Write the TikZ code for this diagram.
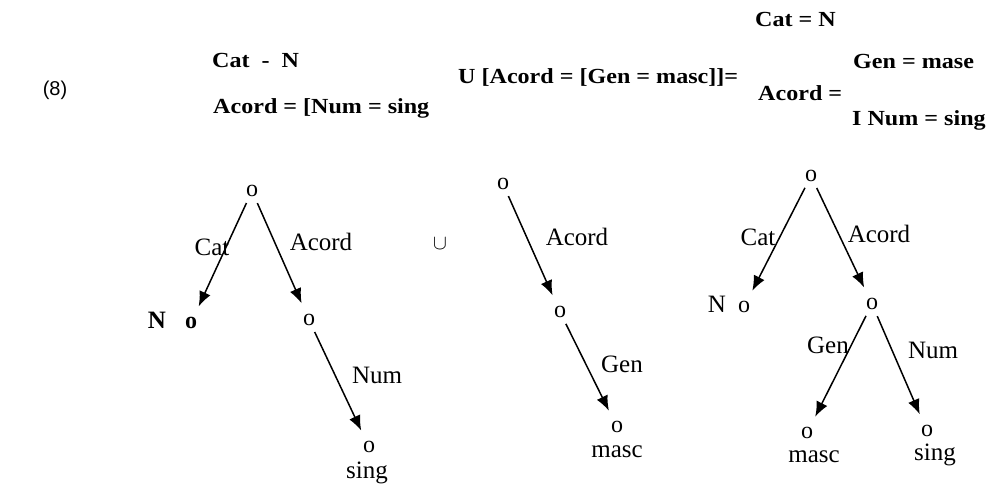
\documentclass[tikz,border=0pt]{standalone}
\usepackage{graphicx}
\usepackage{fontspec}
\setmainfont{Liberation Serif}
\newfontfamily\arialf{Liberation Sans}
\usetikzlibrary{arrows.meta}
\newcommand\tw[1]{\scalebox{1.12}[1]{#1}}
\begin{document}
\begin{tikzpicture}[x=1pt,y=-1pt,
  top/.style={font=\fontsize{21.5}{24}\selectfont\bfseries, inner sep=0pt, anchor=base west},
  lab/.style={font=\fontsize{25}{28}\selectfont, inner sep=0pt, anchor=base},
  pt/.style={font=\fontsize{24}{28}\selectfont, circle, inner sep=0pt, minimum size=20pt},
  arr/.style={-{Latex[length=15pt,width=12pt]}, line width=1.5pt, shorten >=8pt, shorten <=3pt}]
\useasboundingbox (0,0) rectangle (993,485);

% header
\node[font=\arialf\fontsize{20}{24}\selectfont, inner sep=0pt] (ex) at (55,90) {(8)};
\node[top] (f1a) at (212,67) {\tw{Cat\ \ -\ \ N}};
\node[top] (f1b) at (213,113) {\tw{Acord = [Num = sing}};
\node[top] (f2) at (458,83) {\tw{U [Acord = [Gen = masc]]=}};
\node[top] (f3a) at (755,26) {\tw{Cat = N}};
\node[top] (f3b) at (853,68) {\tw{Gen = mase}};
\node[top] (f3c) at (758,100) {\tw{Acord =}};
\node[top] (f3d) at (852,125) {\tw{I Num = sing}};

% tree 1
\node[pt] (r1) at (252,191) {o};
\node[pt] (c1) at (191,323) {\textbf{o}};
\node[lab] (N1) at (157,328) {\textbf{N}};
\node[pt] (a1) at (309,320) {o};
\node[pt] (s1) at (369,447) {o};
\node[lab] (sing1) at (367,478) {sing};
\node[lab] (Cat1) at (212,255) {Cat};
\node[lab] (Acord1) at (321,250) {Acord};
\node[lab] (Num1) at (377,383) {Num};
\draw[arr] (r1) -- (c1);
\draw[arr] (r1) -- (a1);
\draw[arr] (a1) -- (s1);

\node[inner sep=0pt, font=\fontsize{20}{24}\selectfont] (cup) at (440,244) {$\cup$};

% tree 2
\node[pt] (r2) at (503,184) {o};
\node[pt] (a2) at (560,312) {o};
\node[pt] (m2) at (617,427) {o};
\node[lab] (Acord2) at (577,245) {Acord};
\node[lab] (Gen2) at (622,372) {Gen};
\node[lab] (masc2) at (617,457) {masc};
\draw[arr] (r2) -- (a2);
\draw[arr] (a2) -- (m2);

% tree 3
\node[pt] (r3) at (811,176) {o};
\node[pt] (c3) at (744,307) {o};
\node[lab] (N3) at (717,312) {N};
\node[pt] (a3) at (872,304) {o};
\node[pt] (g3) at (807,433) {o};
\node[pt] (n3) at (927,431) {o};
\node[lab] (Cat3) at (758,245) {Cat};
\node[lab] (Acord3) at (879,242) {Acord};
\node[lab] (Gen3) at (828,353) {Gen};
\node[lab] (Num3) at (933,358) {Num};
\node[lab] (masc3) at (814,462) {masc};
\node[lab] (sing3) at (935,460) {sing};
\draw[arr] (r3) -- (c3);
\draw[arr] (r3) -- (a3);
\draw[arr] (a3) -- (g3);
\draw[arr] (a3) -- (n3);
\end{tikzpicture}
\end{document}
